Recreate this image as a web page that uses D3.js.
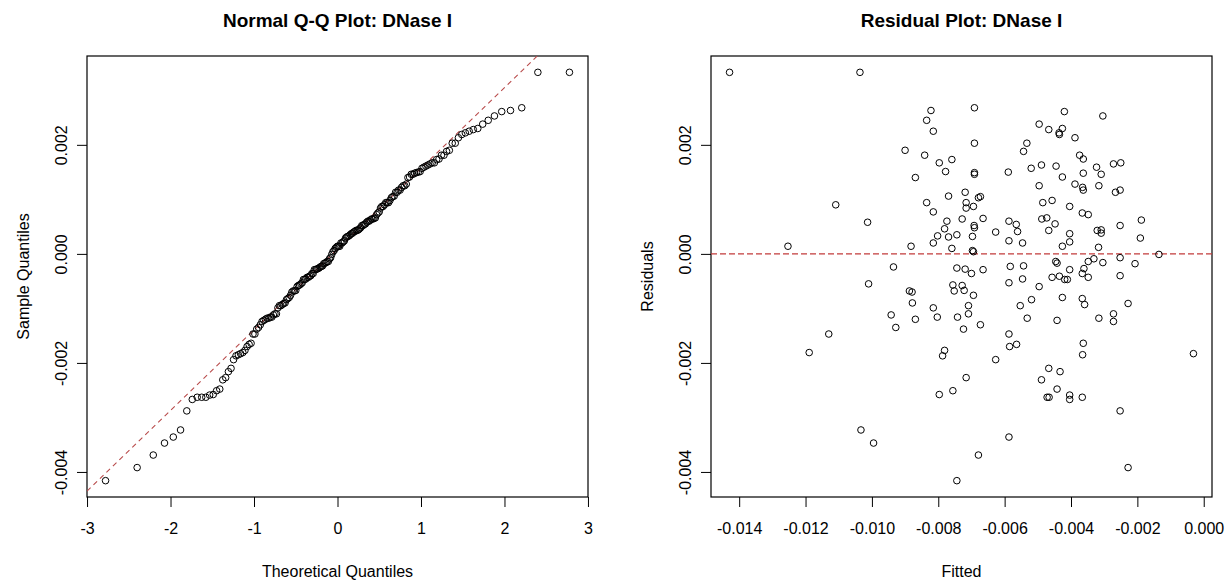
<!DOCTYPE html>
<html>
<head>
<meta charset="utf-8">
<title>DNase I diagnostics</title>
<script src="https://cdn.jsdelivr.net/npm/d3@7"></script>
<style>
  body { margin: 0; background: #ffffff; }
  svg  { font-family: "Liberation Sans", Arial, sans-serif; }
</style>
</head>
<body>
<svg id="chart" width="1230" height="581"></svg>
<script>
////////////////////////////////////////////////////////////////////////
// DNase I model diagnostics -- normal Q-Q plot and residual plot
//
// fitted / residuals are read off the residual plot, one pair per point.
// The Q-Q panel uses the same residuals (sorted against normal quantiles)
//
////////////////////////////////////////////////////////////////////////

var fitted = [
  -0.01429, -0.01036, -0.00822, -0.00835, -0.00815, -0.00900, -0.00841, -0.00797, -0.00759, -0.00778,
  -0.00869, -0.00769, -0.01109, -0.00835, -0.00815, -0.01013, -0.00774, -0.00781, -0.00802, -0.00769,
  -0.00744, -0.00815, -0.00759, -0.01253, -0.00882, -0.00935, -0.00744,
  -0.00691, -0.00420, -0.00304, -0.00496, -0.00467, -0.00426, -0.00436, -0.00435, -0.00388, -0.00691,
  -0.00533, -0.00543, -0.00374, -0.00363, -0.00272, -0.00250, -0.00520, -0.00489, -0.00445, -0.00323,
  -0.00589, -0.00691, -0.00691, -0.00363, -0.00309, -0.00426, -0.00496, -0.00388, -0.00365, -0.00363,
  -0.00316, -0.00266, -0.00252, -0.00719, -0.00716, -0.00694, -0.00716, -0.00679, -0.00673, -0.00485,
  -0.00457, -0.00404, -0.00366, -0.00348, -0.00728, -0.00665, -0.00488, -0.00473, -0.00587, -0.00565,
  -0.00448, -0.00692, -0.00691, -0.00252, -0.00188, -0.00627, -0.00561, -0.00467, -0.00404, -0.00321,
  -0.00309, -0.00309, -0.00697, -0.00587, -0.00546, -0.00426, -0.00404, -0.00317, -0.00191, -0.00697,
  -0.00694, -0.00135, -0.00719, -0.00665, -0.00583, -0.00543, -0.00446, -0.00442, -0.00404, -0.00361,
  -0.00348, -0.00331, -0.00304, -0.00252, -0.00207,
  -0.00700, -0.00587, -0.00546, -0.00457, -0.00435, -0.00419, -0.00411, -0.00366, -0.00348, -0.00252,
  -0.00728, -0.00722, -0.00694, -0.00709, -0.00709, -0.00742, -0.00724, -0.00673, -0.00496, -0.00519,
  -0.00553, -0.00532, -0.00426, -0.00442, -0.00366, -0.00359, -0.00316, -0.00272, -0.00272, -0.00228,
  -0.00587, -0.00585, -0.00564, -0.00627, -0.00363, -0.00365, -0.00031, -0.00716, -0.00756, -0.00467,
  -0.00433, -0.00489, -0.00442, -0.00472, -0.00466, -0.00404, -0.00404, -0.00366, -0.00252, -0.00587,
  -0.00679, -0.00228, -0.00744,
  -0.01010, -0.00887, -0.00879, -0.00756, -0.00752, -0.00878, -0.00815, -0.00942, -0.00803, -0.00869,
  -0.00928, -0.01130, -0.01189, -0.00781, -0.00787, -0.00797, -0.01033, -0.00995
  ];

var residuals = [
  0.00333, 0.00333, 0.00263, 0.00245, 0.00225, 0.00190, 0.00181, 0.00167, 0.00173, 0.00151,
  0.00140, 0.00106, 0.00090, 0.00094, 0.00077, 0.00058, 0.00060, 0.00046, 0.00033, 0.00031,
  0.00035, 0.00020, 0.00010, 0.00014, 0.00014, -0.00024, -0.00026,
  0.00268, 0.00261, 0.00253, 0.00238, 0.00228, 0.00230, 0.00222, 0.00219, 0.00213, 0.00203,
  0.00203, 0.00188, 0.00181, 0.00174, 0.00165, 0.00167, 0.00157, 0.00163, 0.00161, 0.00159,
  0.00150, 0.00149, 0.00146, 0.00148, 0.00146, 0.00141, 0.00125, 0.00128, 0.00122, 0.00117,
  0.00125, 0.00113, 0.00117, 0.00113, 0.00094, 0.00087, 0.00084, 0.00103, 0.00105, 0.00094,
  0.00098, 0.00087, 0.00075, 0.00072, 0.00064, 0.00065, 0.00064, 0.00066, 0.00060, 0.00054,
  0.00055, 0.00052, 0.00048, 0.00052, 0.00062, 0.00040, 0.00041, 0.00043, 0.00037, 0.00043,
  0.00044, 0.00038, 0.00032, 0.00024, 0.00020, 0.00014, 0.00022, 0.00012, 0.00029, 0.00006,
  0.00004, -0.00001, -0.00028, -0.00029, -0.00023, -0.00022, -0.00014, -0.00017, -0.00029, -0.00027,
  -0.00014, -0.00009, -0.00016, -0.00007, -0.00018,
  -0.00036, -0.00053, -0.00046, -0.00043, -0.00041, -0.00047, -0.00047, -0.00036, -0.00043, -0.00040,
  -0.00058, -0.00067, -0.00076, -0.00095, -0.00110, -0.00116, -0.00138, -0.00130, -0.00060, -0.00084,
  -0.00095, -0.00118, -0.00080, -0.00122, -0.00082, -0.00093, -0.00118, -0.00110, -0.00124, -0.00091,
  -0.00147, -0.00170, -0.00166, -0.00194, -0.00164, -0.00185, -0.00183, -0.00227, -0.00251, -0.00210,
  -0.00216, -0.00231, -0.00248, -0.00263, -0.00263, -0.00259, -0.00267, -0.00263, -0.00288, -0.00336,
  -0.00369, -0.00392, -0.00416,
  -0.00055, -0.00068, -0.00070, -0.00057, -0.00068, -0.00090, -0.00099, -0.00112, -0.00116, -0.00120,
  -0.00135, -0.00147, -0.00181, -0.00177, -0.00187, -0.00258, -0.00323, -0.00347
  ];

// reference line of the Q-Q panel
var qqLineIntercept = 0.000088;
var qqLineSlope = 0.00148;

// tick labels
var quantileTicks = [-3, -2, -1, 0, 1, 2, 3];
var fittedTicks = [-0.014, -0.012, -0.010, -0.008, -0.006, -0.004, -0.002, 0.000];
var residualTicks = [-0.004, -0.002, 0.000, 0.002];

var titles = ["Normal Q-Q Plot: DNase I", "Residual Plot: DNase I"];
var xTitles = ["Theoretical Quantiles", "Fitted"];
var yTitles = ["Sample Quantiles", "Residuals"];


////////////////////////////////////////////////////////////////////////
//
// Inverse normal cdf (Acklam) -- used for the theoretical quantiles
//
////////////////////////////////////////////////////////////////////////
function qnorm(p)
  {
  var a = [-3.969683028665376e+01, 2.209460984245205e+02, -2.759285104469687e+02,
            1.383577518672690e+02, -3.066479806614716e+01, 2.506628277459239e+00];
  var b = [-5.447609879822406e+01, 1.615858368580409e+02, -1.556989798598866e+02,
            6.680131188771972e+01, -1.328068155288572e+01];
  var c = [-7.784894002430293e-03, -3.223964580411365e-01, -2.400758277161838e+00,
           -2.549732539343734e+00, 4.374664141464968e+00, 2.938163982698783e+00];
  var d = [7.784695709041462e-03, 3.224671290700398e-01, 2.445134137142996e+00,
           3.754408661907416e+00];
  var pLow = 0.02425;
  var q, r;

  if(p < pLow || p > 1 - pLow)
    {
    q = Math.sqrt(-2 * Math.log(p < pLow ? p : 1 - p));
    var v = (((((c[0]*q + c[1])*q + c[2])*q + c[3])*q + c[4])*q + c[5]) /
            ((((d[0]*q + d[1])*q + d[2])*q + d[3])*q + 1);
    return p < pLow ? v : -v;
    }

  q = p - 0.5;
  r = q * q;
  return (((((a[0]*r + a[1])*r + a[2])*r + a[3])*r + a[4])*r + a[5]) * q /
         (((((b[0]*r + b[1])*r + b[2])*r + b[3])*r + b[4])*r + 1);
  }


////////////////////////////////////////////////////////////////////////
//
// R style range: data extent padded by 4% on each side
//
////////////////////////////////////////////////////////////////////////
function paddedExtent(values)
  {
  var ext = d3.extent(values);
  var pad = (ext[1] - ext[0]) * 0.04;
  return [ext[0] - pad, ext[1] + pad];
  }


////////////////////////////////////////////////////////////////////////
//
// Draw box, ticks, tick labels and titles for one panel
//
////////////////////////////////////////////////////////////////////////
function drawFrame(svg, box, x, y, xTicks, yTicks, xFormat, title, xTitle, yTitle)
  {
  var g = svg.append("g");
  var midX = (box.left + box.right) / 2;
  var midY = (box.top + box.bottom) / 2;

  //bottom axis, the box stands in for the axis line
  var xAxis = g.append("g")
    .attr("transform", "translate(0," + box.bottom + ")")
    .call(d3.axisBottom(x).tickValues(xTicks).tickSize(10).tickPadding(16).tickFormat(xFormat));
  xAxis.select(".domain").remove();
  xAxis.selectAll("line").attr("stroke", "#000");
  xAxis.selectAll("text").attr("fill", "#000").style("font-size", "16px");

  //left axis, labels turned parallel to the axis
  var yAxis = g.append("g")
    .attr("transform", "translate(" + box.left + ",0)")
    .call(d3.axisLeft(y).tickValues(yTicks).tickSize(10).tickFormat(function(d) { return d.toFixed(3); }));
  yAxis.select(".domain").remove();
  yAxis.selectAll("line").attr("stroke", "#000");
  yAxis.selectAll("text")
    .attr("fill", "#000")
    .style("font-size", "16px")
    .attr("transform", "rotate(-90)")
    .attr("text-anchor", "middle")
    .attr("x", 0)
    .attr("y", -26)
    .attr("dy", "0.35em");

  //frame
  g.append("rect")
    .attr("x", box.left)
    .attr("y", box.top)
    .attr("width", box.right - box.left)
    .attr("height", box.bottom - box.top)
    .attr("fill", "none")
    .attr("stroke", "#000")
    .attr("stroke-width", 1.2);

  g.append("text")
    .attr("x", midX)
    .attr("y", 27)
    .attr("text-anchor", "middle")
    .style("font-size", "19px")
    .style("font-weight", "bold")
    .text(title);

  g.append("text")
    .attr("x", midX)
    .attr("y", 577)
    .attr("text-anchor", "middle")
    .style("font-size", "16px")
    .text(xTitle);

  g.append("text")
    .attr("transform", "translate(" + (box.left - 64) + "," + midY + ") rotate(-90)")
    .attr("text-anchor", "middle")
    .attr("dy", "0.35em")
    .style("font-size", "16px")
    .text(yTitle);

  return g;
  }


////////////////////////////////////////////////////////////////////////
//
// Open circles, R pch = 1
//
////////////////////////////////////////////////////////////////////////
function drawPoints(g, points, x, y)
  {
  g.append("g")
    .selectAll("circle")
    .data(points)
    .enter()
    .append("circle")
    .attr("cx", function(d) { return x(d[0]); })
    .attr("cy", function(d) { return y(d[1]); })
    .attr("r", 3.3)
    .attr("fill", "none")
    .attr("stroke", "#000")
    .attr("stroke-width", 1);
  }


function init()
  {
  var svg = d3.select("#chart");
  svg.append("rect").attr("width", 1230).attr("height", 581).attr("fill", "#fff");

  var leftBox = {left: 87, right: 588, top: 56, bottom: 497};
  var rightBox = {left: 711, right: 1212, top: 56, bottom: 497};

  //Q-Q pairs: sorted residuals against ppoints normal quantiles
  var n = residuals.length;
  var sorted = residuals.slice().sort(d3.ascending);
  var theoretical = sorted.map(function(d, i) { return qnorm((i + 1 - 0.5) / n); });
  var qqPoints = sorted.map(function(d, i) { return [theoretical[i], d]; });

  var yDomain = paddedExtent(residuals);

  //left panel
  var xq = d3.scaleLinear().domain(paddedExtent(theoretical)).range([leftBox.left, leftBox.right]);
  var yq = d3.scaleLinear().domain(yDomain).range([leftBox.bottom, leftBox.top]);

  var left = drawFrame(svg, leftBox, xq, yq, quantileTicks, residualTicks,
    function(d) { return String(d); }, titles[0], xTitles[0], yTitles[0]);

  //clip the reference line to the box
  svg.append("clipPath").attr("id", "qqClip")
    .append("rect")
    .attr("x", leftBox.left).attr("y", leftBox.top)
    .attr("width", leftBox.right - leftBox.left).attr("height", leftBox.bottom - leftBox.top);

  var xEnds = xq.domain();
  left.append("line")
    .attr("clip-path", "url(#qqClip)")
    .attr("x1", xq(xEnds[0]))
    .attr("y1", yq(qqLineIntercept + qqLineSlope * xEnds[0]))
    .attr("x2", xq(xEnds[1]))
    .attr("y2", yq(qqLineIntercept + qqLineSlope * xEnds[1]))
    .attr("stroke", "#b84a4a")
    .attr("stroke-width", 1.1)
    .attr("stroke-dasharray", "5,4");

  drawPoints(left, qqPoints, xq, yq);

  //right panel
  var xr = d3.scaleLinear().domain(paddedExtent(fitted)).range([rightBox.left, rightBox.right]);
  var yr = d3.scaleLinear().domain(yDomain).range([rightBox.bottom, rightBox.top]);

  var right = drawFrame(svg, rightBox, xr, yr, fittedTicks, residualTicks,
    function(d) { return d.toFixed(3); }, titles[1], xTitles[1], yTitles[1]);

  right.append("line")
    .attr("x1", rightBox.left)
    .attr("x2", rightBox.right)
    .attr("y1", yr(0))
    .attr("y2", yr(0))
    .attr("stroke", "#c23b3b")
    .attr("stroke-width", 1.1)
    .attr("stroke-dasharray", "6,3");

  var residualPoints = fitted.map(function(f, i) { return [f, residuals[i]]; });
  drawPoints(right, residualPoints, xr, yr);
  }

init();
</script>
</body>
</html>
